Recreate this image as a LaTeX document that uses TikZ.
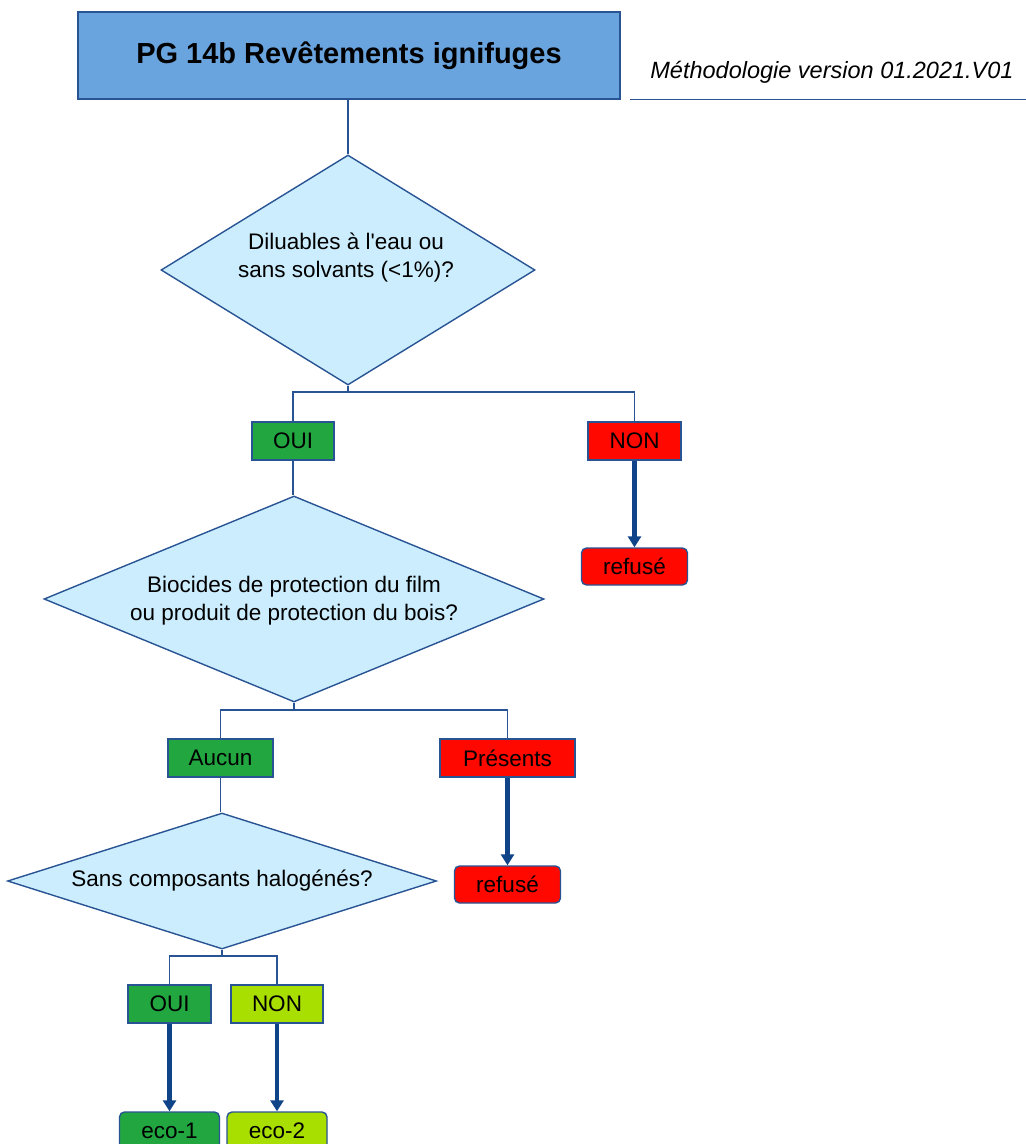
\documentclass[tikz,border=0pt]{standalone}
\usepackage{fontspec}
\setmainfont{Liberation Sans}
\usetikzlibrary{shapes.geometric,arrows.meta}
\definecolor{lineblue}{RGB}{41,84,148}
\definecolor{arrowblue}{RGB}{16,68,136}
\definecolor{titlefill}{RGB}{106,164,222}
\definecolor{diafill}{RGB}{204,237,253}
\definecolor{okgreen}{RGB}{33,166,64}
\definecolor{limegreen}{RGB}{168,222,0}
\definecolor{refred}{RGB}{255,8,0}
\tikzset{
  x=1pt, y=-1pt,
  thin line/.style={draw=lineblue, line width=1.4pt},
  box/.style={rectangle, draw=lineblue, line width=1.4pt, inner sep=0pt,
    minimum height=38pt, font=\fontsize{22.5}{27}\selectfont, text=black},
  greenbox/.style={box, fill=okgreen},
  limebox/.style={box, fill=limegreen},
  redbox/.style={box, fill=refred},
  refbox/.style={box, fill=refred, rounded corners=5pt, minimum width=106pt, minimum height=37pt},
  ecobox/.style={box, rounded corners=5pt, minimum width=100pt, minimum height=37pt},
  dia/.style={diamond, draw=lineblue, line width=1.4pt, fill=diafill, inner sep=0pt},
  diatext/.style={align=center, font=\fontsize{22.5}{28}\selectfont, text=black, inner sep=0pt},
  flowarrow/.style={draw=arrowblue, line width=4.5pt, -{Triangle[width=13pt,length=11pt]}},
}
\begin{document}
\begin{tikzpicture}
\useasboundingbox[fill=white] (0,0) rectangle (1026,1144);

% title
\node[rectangle, draw=lineblue, line width=1.4pt, fill=titlefill, inner sep=0pt,
  minimum width=542pt, minimum height=87pt,
  font=\fontsize{29}{34}\selectfont\bfseries] (title) at (349,55.5) {PG 14b Revêtements ignifuges};
\node[font=\fontsize{23.5}{28}\selectfont\itshape, inner sep=0pt] (method) at (832,72) {Méthodologie version 01.2021.V01};
\coordinate (ulA) at (630,99.5);
\coordinate (ulB) at (1026,99.5);
\draw[thin line] (ulA) -- (ulB);

% diamond 1
\node[dia, minimum width=374pt, minimum height=230pt] (d1) at (348,270) {};
\node[diatext] (t1) at (346,258) {Diluables à l\textquotesingle eau ou\\sans solvants (<1\%)?};
\draw[thin line] (d1.north |- title.south) -- (d1.north);

\node[greenbox, minimum width=82pt] (oui1) at (293,441) {OUI};
\node[redbox, minimum width=93pt] (non1) at (634.5,441) {NON};
\coordinate (j1) at (348,392);
\draw[thin line] (d1.south) -- (j1);
\draw[thin line] (oui1.north) |- (j1) -| (non1.north);

\node[refbox] (ref1) at (634.5,566.5) {refusé};
\draw[flowarrow] (non1.south) -- (ref1.north);

% diamond 2
\node[dia, minimum width=500pt, minimum height=206pt] (d2) at (294,599) {};
\node[diatext] (t2) at (294,601) {Biocides de protection du film\\ou produit de protection du bois?};
\draw[thin line] (oui1.south) -- (oui1.south |- d2.north);

\node[greenbox, minimum width=105pt] (aucun) at (220.5,758) {Aucun};
\node[redbox, minimum width=135pt] (pres) at (507.5,758) {Présents};
\coordinate (j2) at (294,710);
\draw[thin line] (d2.south) -- (j2);
\draw[thin line] (aucun.north) |- (j2) -| (pres.north);

\node[refbox] (ref2) at (507.5,884.5) {refusé};
\draw[flowarrow] (pres.south) -- (ref2.north);

% diamond 3
\node[dia, minimum width=429pt, minimum height=136pt] (d3) at (222,881) {};
\node[diatext] (t3) at (222,881) {Sans composants halogénés?};
\draw[thin line] (aucun.south) -- (aucun.south |- d3.north);

\node[greenbox, minimum width=83pt] (oui3) at (169.5,1004) {OUI};
\node[limebox, minimum width=92pt] (non3) at (277,1004) {NON};
\coordinate (j3) at (222,956);
\draw[thin line] (d3.south) -- (j3);
\draw[thin line] (oui3.north) |- (j3) -| (non3.north);

\node[ecobox, fill=okgreen] (eco1) at (169.5,1130.5) {eco-1};
\node[ecobox, fill=limegreen] (eco2) at (277,1130.5) {eco-2};
\draw[flowarrow] (oui3.south) -- (eco1.north);
\draw[flowarrow] (non3.south) -- (eco2.north);
\end{tikzpicture}
\end{document}
